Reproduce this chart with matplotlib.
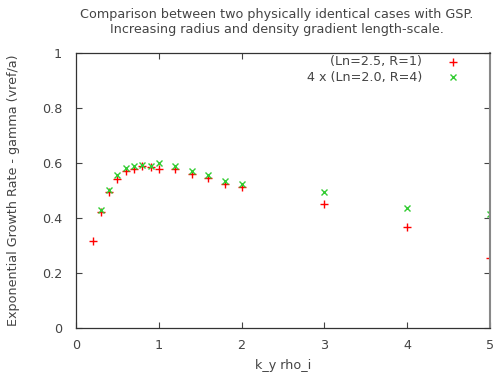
import matplotlib
matplotlib.use("Agg")
import matplotlib.pyplot as plt

kx_red = [0.2, 0.3, 0.4, 0.5, 0.6, 0.7, 0.8, 0.9, 1.0, 1.2, 1.4, 1.6, 1.8, 2.0, 3.0, 4.0, 5.0]
gamma_red = [0.316, 0.423, 0.493, 0.543, 0.570, 0.579, 0.588, 0.585, 0.578, 0.578, 0.561, 0.544, 0.524, 0.512, 0.451, 0.367, 0.255]
kx_green = [0.3, 0.4, 0.5, 0.6, 0.7, 0.8, 0.9, 1.0, 1.2, 1.4, 1.6, 1.8, 2.0, 3.0, 4.0, 5.0]
gamma_green = [0.430, 0.502, 0.557, 0.581, 0.590, 0.591, 0.590, 0.601, 0.589, 0.570, 0.557, 0.534, 0.524, 0.493, 0.437, 0.413]

label_red = "(Ln=2.5, R=1)"
label_green = "4 x (Ln=2.0, R=4)"
title = "Comparison between two physically identical cases with GSP.\nIncreasing radius and density gradient length-scale."
xlabel = "k_y rho_i"
ylabel = "Exponential Growth Rate - gamma (vref/a)"
xticks = [0, 1, 2, 3, 4, 5]
top_ticks = [1, 2]
yticks = [0, 0.2, 0.4, 0.6, 0.8, 1]
ytick_labels = ["0", "0.2", "0.4", "0.6", "0.8", "1"]

txt = "#444444"
fs = 9.2
plt.rcParams['font.family'] = ['DejaVu Sans']
fig = plt.figure(figsize=(4.95, 3.73), dpi=100)
L, R, T, B = 76, 490, 53, 328
ax = fig.add_axes([L/495, 1-B/373, (R-L)/495, (B-T)/373])

ax.plot(kx_red, gamma_red, linestyle='none', marker='+', color='#ff0000', markersize=6, markeredgewidth=1.0)
ax.plot(kx_green, gamma_green, linestyle='none', marker='x', color='#33cc33', markersize=5, markeredgewidth=1.0)

ax.set_xlim(0, 5)
ax.set_ylim(0, 1)
ax.set_xticks(xticks)
ax.set_xticklabels([str(t) for t in xticks])
ax.set_yticks(yticks)
ax.set_yticklabels(ytick_labels)
ax.tick_params(direction='in', top=False, right=True, length=4, width=0.8, labelsize=fs, colors=txt)
ax.tick_params(axis='x', pad=8)
ax.tick_params(axis='y', pad=10)
sec = ax.secondary_xaxis('top')
sec.set_xticks(top_ticks)
sec.set_xticklabels([])
sec.tick_params(direction='in', length=4, width=0.8, colors=txt)
sec.spines['top'].set_visible(False)
for s in ax.spines.values():
    s.set_color('#333333')
    s.set_linewidth(0.9)
ax.spines['right'].set_color('#888888')
ax.spines['right'].set_linewidth(1.5)

fig.text((L+R)/2/495 - 0.012, 1-22/373, title, ha='center', va='center', fontsize=fs, color=txt, linespacing=1.15)
fig.text((L+R)/2/495, 1-365/373, xlabel, ha='center', va='center', fontsize=fs, color=txt)
fig.text(14/495, 1-190/373, ylabel, ha='center', va='center', rotation=90, fontsize=fs, color=txt)

# legend (gnuplot style: right-aligned text with marker sample to the right)
ax.text((422-L)/(R-L), (B-62)/(B-T), label_red, transform=ax.transAxes, ha='right', va='center', fontsize=fs, color=txt)
ax.text((422-L)/(R-L), (B-77)/(B-T), label_green, transform=ax.transAxes, ha='right', va='center', fontsize=fs, color=txt)
ax.plot([(453-L)/(R-L)], [(B-62)/(B-T)], transform=ax.transAxes, linestyle='none', marker='+', color='#ff0000', markersize=6, markeredgewidth=1.0, clip_on=False)
ax.plot([(453-L)/(R-L)], [(B-77)/(B-T)], transform=ax.transAxes, linestyle='none', marker='x', color='#33cc33', markersize=5, markeredgewidth=1.0, clip_on=False)

fig.savefig("out.png", dpi=100)
